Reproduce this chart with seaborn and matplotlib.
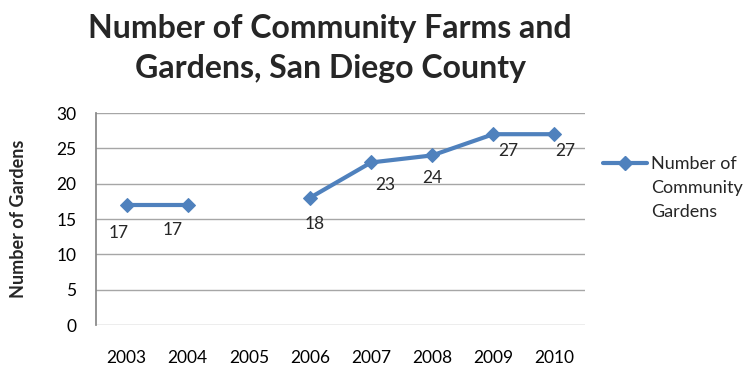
import numpy as np
import pandas as pd
import matplotlib
matplotlib.use("Agg")
import matplotlib.pyplot as plt
import seaborn as sns
from matplotlib.lines import Line2D

years = ["2003", "2004", "2005", "2006", "2007", "2008", "2009", "2010"]
gardens = [17, 17, np.nan, 18, 23, 24, 27, 27]
series_name = "Number of\nCommunity\nGardens"
title = "Number of Community Farms and\nGardens, San Diego County"
y_label = "Number of Gardens"

# data-label placement (pixel offsets of label centre from the point), style only
label_dx = [-8, -15, 0, 5, 14, 0, 15, 11]
label_dy = [28, 25, 0, 26, 23, 23, 17, 17]

sns.set_theme(style="white")
plt.rcParams['font.family'] = ['Lato', 'DejaVu Sans']

df = pd.DataFrame({"pos": np.arange(len(years)), "year": years, "value": gardens})
df["seg"] = df["value"].isna().cumsum()
d = df.dropna()

fig = plt.figure(figsize=(7.49, 3.69), dpi=100)
ax = fig.add_axes([96 / 749, 44 / 369, 489 / 749, 212 / 369])

color = "#4F81BD"
sns.lineplot(data=d, x="pos", y="value", units="seg", estimator=None, ax=ax,
             color=color, linewidth=3, marker="D", markersize=7.5,
             markeredgecolor=color, legend=False)

ax.set_xlim(-0.5, len(years) - 0.5)
ax.set_ylim(0, 30)
ax.set_yticks(range(0, 31, 5))
ax.set_xticks(range(len(years)))
ax.set_xticklabels(years)
ax.tick_params(axis="x", labelsize=12.5, colors="black", length=0, pad=18)
ax.tick_params(axis="y", labelsize=12.5, labelcolor="black", length=5,
               color="#868686", width=1, direction="out", pad=9)
ax.grid(axis="y", color="#A6A6A6", linewidth=1)
ax.set_axisbelow(True)
for s in ["top", "right", "bottom"]:
    ax.spines[s].set_visible(False)
ax.spines["left"].set_color("#868686")
ax.set_xlabel("")
ax.set_ylabel(y_label, fontsize=13, fontweight="bold", labelpad=21)

px = 72 / 100
for i, r in d.iterrows():
    ax.annotate(f"{int(r['value'])}", (r["pos"], r["value"]),
                xytext=(label_dx[i] * px, -label_dy[i] * px),
                textcoords="offset points", ha="center", va="center", fontsize=12.5)

fig.text(0.441, 0.962, title, ha="center", va="top", fontsize=23, fontweight="bold",
         linespacing=1.45)

h = Line2D([0], [0], color=color, linewidth=3, marker="D", markersize=7.5)
leg = fig.legend([h], [series_name], loc="upper left", bbox_to_anchor=(603 / 749, 0.576),
                 frameon=False, fontsize=13, handlelength=2.45, handletextpad=0.2,
                 borderaxespad=0, borderpad=0)
for t in leg.get_texts():
    t.set_linespacing(1.6)
for col in leg._legend_handle_box.get_children():
    for item in col.get_children():
        item.align = "top"

fig.savefig("out.png", dpi=100)
